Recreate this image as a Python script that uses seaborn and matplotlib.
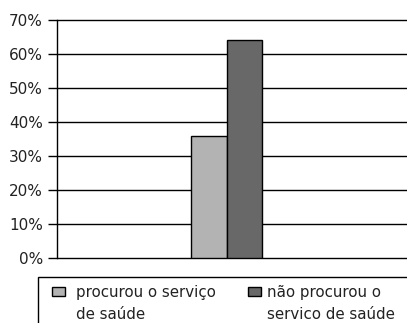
import matplotlib
matplotlib.use("Agg")
import matplotlib.pyplot as plt
import seaborn as sns
import pandas as pd
from matplotlib.patches import Rectangle, Patch

categories = [""]
series = ["procurou o serviço\nde saúde", "não procurou o\nservico de saúde"]
values = [36, 64]
colors = ["#b3b3b3", "#686868"]
yticks = [0, 10, 20, 30, 40, 50, 60, 70]
ytick_labels = ["0%", "10%", "20%", "30%", "40%", "50%", "60%", "70%"]

sns.set_theme(style="white")
plt.rcParams['font.family'] = ['DejaVu Sans']

df = pd.DataFrame({"cat": categories * len(series), "serie": series, "valor": values})

fig = plt.figure(figsize=(4.07, 3.23), dpi=100)
ax = fig.add_axes([57/407, (323-258)/323, 1 - 57/407, (258-20)/323])

sns.barplot(data=df, x="cat", y="valor", hue="serie", palette=colors,
            edgecolor="black", linewidth=1.0, ax=ax, legend=False, saturation=1)

ax.set_ylim(0, 70)
ax.set_xlim(-1.915, 2.028)
ax.set_yticks(yticks)
ax.set_yticklabels(ytick_labels, fontsize=11, color="#222222")
ax.set_xticks([])
ax.set_xlabel("")
ax.set_ylabel("")
for yv in yticks:
    ax.axhline(yv, color="black", linewidth=1.0, zorder=0, clip_on=False)
for s in ["top", "right", "bottom"]:
    ax.spines[s].set_visible(False)
ax.spines["left"].set_color("black")
ax.spines["left"].set_linewidth(1.0)
ax.tick_params(axis="y", left=True, length=6.5, width=1.0, color="black", pad=3.5)

# legend frame (clipped by figure edges)
fig.patches.append(Rectangle((38/407, -0.1), 1.0, 1 - 277/323 + 0.1,
                             transform=fig.transFigure, fill=False,
                             edgecolor="black", linewidth=1.0))

blank = Patch(facecolor="none", edgecolor="none")
xs = [52/407, 248/407]
pads = [0.72, 0.42]
for i, (lab, c) in enumerate(zip(series, colors)):
    lines = lab.split("\n")
    h = Patch(facecolor=c, edgecolor="black", linewidth=1.0)
    leg = fig.legend([h, blank], lines, loc="upper left",
                     bbox_to_anchor=(xs[i], 1 - 285/323),
                     ncol=1, frameon=False, fontsize=10.8, handlelength=0.87,
                     handleheight=0.6, handletextpad=pads[i], borderpad=0,
                     borderaxespad=0, labelspacing=0.45)
    for t in leg.get_texts():
        t.set_color("#222222")

fig.savefig("out.png", dpi=100)
